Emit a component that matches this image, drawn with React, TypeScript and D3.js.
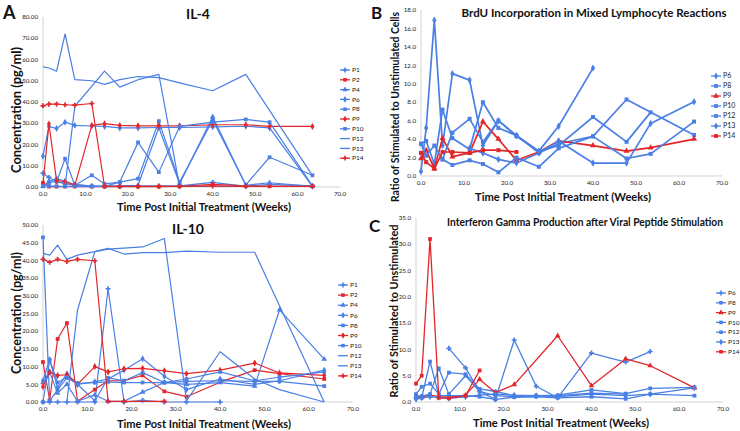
import React from 'react';
import * as d3 from 'd3';

const BLUE = '#4a7fe4';
const RED = '#e3262a';

// ---------- IL-4 ----------
const il4Weeks = [0, 1.4, 3.2, 5.2, 7.5, 11.5, 14.5, 18.1, 22.4, 27.3, 32.2, 40, 47.8, 53.4, 63.5];
const il4P1 = [6.5, 4.5, 2.5, 1.5, 1, 0.5, 0.3, 0.3, 0.5, 0.5, 0.5, 2.2, 0.3, 1.3, 0.5];
const il4P2 = [1.9, 0.2, 0.2, 0.2, 0.3, 0.2, 0.2, 0.2, 0.2, 0.2, 0.3, 1.3, 0.5, 0.3, 0.4];
const il4P4 = [0.3, 2.5, 4, 2.8, 1.2, 0.3, 0.3, 0.5, 0.8, 28, 1.5, 33, 0.8, 2, 0.3];
const il4P6 = [14.5, 28.5, 27.5, 30.5, 29, 28.7, 28.5, 27.8, 27.8, 28, 28, 28.3, 28.6, 27.8, 0.3];
const il4P8 = [0.3, 2.3, 2.5, 13.3, 0.8, 5.5, 1.5, 2.3, 3.9, 31, 2.3, 31.6, 1, 14, 5.5];
const il4P9 = [1.5, 29.7, 3, 2.5, 0.8, 29, 29.8, 29, 28.8, 28.8, 28.8, 29.3, 29.3, 28.5, 28.5];
const il4P10 = [0.5, 0.5, 0.3, 0.3, 0.3, 0.3, 0.3, 2.3, 21, 7, 28.5, 30.5, 31.8, 30.5, 0.5];
const il4P12 = [56.5, 56, 54.5, 72, 50.5, 50, 48.3, 50.5, 52, 51.5, 49, 45.3, 53, null, 5.5];
const il4P13 = [null, null, null, 0.3, 38, null, 54.5, 47, 50.5, 53, 0.3, 0.3, 0.3, null, 0.3];
const il4P14 = [38.2, 39, 39, 38.7, 38.5, 39.3, 0.3, 0.3, 0.3, 0.3, 0.3, 0.5, 0.3, null, 0.3];

// ---------- IL-10 ----------
const il10Weeks = [0, 1.5, 3.3, 5.4, 7.8, 11.7, 14.7, 18.3, 22.5, 27.4, 32.4, 40, 47.8, 53.4, 63.5];
const il10P1 = [0, 0, 0, 0, 0, 0, 32, 0, 0.5, 0, 0, 0, null, null, null];
const il10P2 = [11.3, 0.5, 17.8, 22.3, 0.2, 3.5, 6.0, 6.0, 7.5, 3.0, 1.5, 5.6, 9.0, 8.0, 6.5];
const il10P4 = [5.5, 8.5, 2.5, 5.0, 0.2, 2.0, 0.2, 0.2, 2.8, 5.5, 5.0, 5.5, 4.5, 26, 12.1];
const il10P6 = [6, 12, 4, 8, 5, 5.7, 6.5, 9, 12.2, 7.3, 3.5, 6.5, 5, 6, 9];
const il10P8 = [46.5, 0.3, 3.5, 6.8, 5.3, 5.5, 5.7, 5.5, 5.5, 5.5, 5.8, 6.0, 5.8, 5.8, 4.5];
const il10P9 = [4.3, 8.5, 7.5, 7.7, 5.0, 10.0, 8.5, 9.4, 9.5, 8.8, 8.0, 9.0, 11.0, 8.2, 7.5];
const il10P10 = [0, 11.8, 5.5, 7.0, 5.0, 0.3, 6.8, 6.0, 8.3, 5.5, 6.5, 8.5, 6.0, 7.0, 8.5];
const il10P12 = [42, 41.5, 44.3, 40.3, 41.5, 42.5, 43.4, 41.8, 42.2, 42.2, 42.6, 42.3, 42.3, null, 0];
const il10P13 = [null, null, null, 0, 26, 42.5, 43.2, null, 43.8, 46.2, 0.3, 14.2, 6.5, 3.5, 0];
const il10P14 = [40.3, 39.5, 40.3, 39.7, 40.3, 39.9, 0.2, 0.2, null, 0.2, null, null, null, null, null];

// ---------- BrdU ----------
const brduWeeks = [0, 1.2, 3.1, 5.0, 7.3, 11.3, 14.4, 18, 22.2, 27.4, 32, 40, 47.8, 53.4, 63.5];
const brduP6 = [0.5, 5.2, 16.9, 3.3, 11.1, 10.4, 3.3, 6.0, 4.4, 2.7, 5.4, 11.7, null, null, null];
const brduP8 = [3.5, 3.8, 1.3, 7.2, 4.1, 2.9, 8.0, 5.2, 4.4, 2.5, 3.5, 4.3, 8.3, null, 4.45];
const brduP9 = [1.9, 2.8, 0.8, 4.1, 2.1, 2.5, 5.9, 4.0, 1.7, 2.6, 3.8, 3.3, 2.7, 3.07, 4.0];
const brduP10 = [3.5, 2.2, 3.3, 1.8, 4.7, 6.2, 3.7, 6.0, 4.3, 2.7, 3.3, 6.4, 3.7, 6.9, null];
const brduP12 = [null, null, null, 1.8, 1.2, 1.7, 1.3, 0.4, 2.0, 1.0, 3.0, 4.3, 1.9, 2.4, 5.9];
const brduP13 = [null, null, null, null, null, 3.0, 2.5, 1.8, 1.4, 2.5, 3.8, 1.4, 1.4, 5.7, 8.05];
const brduP14 = [2.5, 1.5, 0.8, 2.6, 2.6, 2.5, 2.8, 2.8, 2.6, null, null, null, null, null, null];

// ---------- IFN-gamma ----------
const ifnWeeks = [0, 1.3, 3.2, 5.2, 7.5, 11.3, 14.5, 18.1, 22.4, 27.4, 32.3, 40, 47.8, 53.4, 63.5];
const ifnP6 = [null, null, null, null, 10.2, 6.5, 2.0, 0.5, 11.8, 3.0, 0.8, 9.3, 7.6, 9.6, null];
const ifnP8 = [1.5, 2.9, 3.5, 1.5, 5.6, 5.3, 2.5, 2.0, 1.2, 1.2, 1.3, 2.3, 1.6, 2.6, 2.8];
const ifnP9 = [1.0, 1.0, 1.3, 1.0, 0.9, 1.3, 4.3, 1.8, 3.3, null, 12.6, 3.1, 8.2, 6.9, 2.7];
const ifnP10 = [0.8, 0.8, 7.7, 1.2, 1.2, 1.2, 1.0, 0.5, 0.9, 1.0, 0.8, 1.0, 0.6, 1.5, 1.2];
const ifnP12 = [1.2, 1.1, 1.5, 6.4, 1.5, 5.0, 2.0, 1.2, 1.0, 1.2, 1.2, 1.7, 1.5, null, null];
const ifnP13 = [0.5, 0.8, 1.0, 0.9, 0.7, 1.0, 1.3, 1.5, 1.3, 1.2, 1.0, 1.5, 1.2, 1.5, 2.7];
const ifnP14 = [3.5, 5.0, 31.0, 0.8, 0.7, 1.2, 6.0, null, null, null, null, null, null, null, null];

const xTicks = [0, 10, 20, 30, 40, 50, 60, 70];

type Series = { name: string; values: (number | null)[]; color: string; marker: string };

const il4Series: Series[] = [
  { name: 'P1', values: il4P1, color: BLUE, marker: 'cross' },
  { name: 'P2', values: il4P2, color: RED, marker: 'square' },
  { name: 'P4', values: il4P4, color: BLUE, marker: 'triangle' },
  { name: 'P6', values: il4P6, color: BLUE, marker: 'diamond' },
  { name: 'P8', values: il4P8, color: BLUE, marker: 'square' },
  { name: 'P9', values: il4P9, color: RED, marker: 'diamond' },
  { name: 'P10', values: il4P10, color: BLUE, marker: 'square' },
  { name: 'P12', values: il4P12, color: BLUE, marker: 'none' },
  { name: 'P13', values: il4P13, color: BLUE, marker: 'none' },
  { name: 'P14', values: il4P14, color: RED, marker: 'cross' },
];
const il10Series: Series[] = [
  { name: 'P1', values: il10P1, color: BLUE, marker: 'cross' },
  { name: 'P2', values: il10P2, color: RED, marker: 'square' },
  { name: 'P4', values: il10P4, color: BLUE, marker: 'triangle' },
  { name: 'P6', values: il10P6, color: BLUE, marker: 'diamond' },
  { name: 'P8', values: il10P8, color: BLUE, marker: 'square' },
  { name: 'P9', values: il10P9, color: RED, marker: 'diamond' },
  { name: 'P10', values: il10P10, color: BLUE, marker: 'square' },
  { name: 'P12', values: il10P12, color: BLUE, marker: 'none' },
  { name: 'P13', values: il10P13, color: BLUE, marker: 'none' },
  { name: 'P14', values: il10P14, color: RED, marker: 'cross' },
];
const brduSeries: Series[] = [
  { name: 'P6', values: brduP6, color: BLUE, marker: 'diamond' },
  { name: 'P8', values: brduP8, color: BLUE, marker: 'square' },
  { name: 'P9', values: brduP9, color: RED, marker: 'triangle' },
  { name: 'P10', values: brduP10, color: BLUE, marker: 'square' },
  { name: 'P12', values: brduP12, color: BLUE, marker: 'square' },
  { name: 'P13', values: brduP13, color: BLUE, marker: 'diamond' },
  { name: 'P14', values: brduP14, color: RED, marker: 'square' },
];
const ifnSeries: Series[] = [
  { name: 'P6', values: ifnP6, color: BLUE, marker: 'cross' },
  { name: 'P8', values: ifnP8, color: BLUE, marker: 'square' },
  { name: 'P9', values: ifnP9, color: RED, marker: 'triangle' },
  { name: 'P10', values: ifnP10, color: BLUE, marker: 'square' },
  { name: 'P12', values: ifnP12, color: BLUE, marker: 'square' },
  { name: 'P13', values: ifnP13, color: BLUE, marker: 'diamond' },
  { name: 'P14', values: ifnP14, color: RED, marker: 'square' },
];

const FONT = 'Lato, "Open Sans", sans-serif';

function symbolPath(marker: string, size: number) {
  const t =
    marker === 'square' ? d3.symbolSquare :
    marker === 'diamond' ? d3.symbolDiamond :
    marker === 'triangle' ? d3.symbolTriangle :
    d3.symbolCross;
  return d3.symbol().type(t).size(size)() || '';
}

type PanelProps = {
  weeks: number[];
  series: Series[];
  x0: number; x1: number; yTop: number; yBot: number;
  yMax: number; yStep: number; yDigits: number;
  lineW: number; mSize: number;
  legX: number; legY: number; legDy: number; legFont: number;
};

function Panel(p: PanelProps) {
  const xs = d3.scaleLinear().domain([0, 70]).range([p.x0, p.x1]);
  const ys = d3.scaleLinear().domain([0, p.yMax]).range([p.yBot, p.yTop]);
  const yTicks = d3.range(0, p.yMax + p.yStep / 2, p.yStep);
  const line = d3
    .line<[number, number]>()
    .x((d) => xs(d[0]))
    .y((d) => ys(d[1]));
  return (
    <g>
      <line x1={p.x0} x2={p.x0} y1={p.yTop} y2={p.yBot} stroke="#c8c8c8" strokeWidth={0.8} />
      <line x1={p.x0} x2={p.x1} y1={p.yBot} y2={p.yBot} stroke="#c8c8c8" strokeWidth={0.8} />
      {yTicks.map((t) => (
        <text key={'y' + t} x={p.x0 - 5} y={ys(t) + 2.2} textAnchor="end" fontSize={6.2} fontFamily={FONT} fill="#222">
          {d3.format('.' + p.yDigits + 'f')(t)}
        </text>
      ))}
      {xTicks.map((t) => (
        <text key={'x' + t} x={xs(t)} y={p.yBot + 9} textAnchor="middle" fontSize={6.2} fontFamily={FONT} fill="#222">
          {d3.format('.1f')(t)}
        </text>
      ))}
      {p.series.map((s) => {
        const pts: [number, number][] = [];
        s.values.forEach((v, i) => {
          if (v !== null && v !== undefined) pts.push([p.weeks[i], v]);
        });
        return (
          <g key={s.name}>
            <path d={line(pts) || ''} fill="none" stroke={s.color} strokeWidth={p.lineW} strokeLinejoin="round" />
            {s.marker !== 'none' &&
              pts.map((d, i) => (
                <path key={i} d={symbolPath(s.marker, p.mSize)} transform={`translate(${xs(d[0])},${ys(d[1])})`} fill={s.color} />
              ))}
          </g>
        );
      })}
      {p.series.map((s, i) => {
        const y = p.legY + i * p.legDy;
        return (
          <g key={'l' + s.name}>
            <line x1={p.legX} x2={p.legX + 10} y1={y} y2={y} stroke={s.color} strokeWidth={1.3} />
            {s.marker !== 'none' && (
              <path d={symbolPath(s.marker, p.mSize * 0.9)} transform={`translate(${p.legX + 5},${y})`} fill={s.color} />
            )}
            <text x={p.legX + 12} y={y + 2.2} fontSize={p.legFont} fontFamily={FONT} fill="#222">
              {s.name}
            </text>
          </g>
        );
      })}
    </g>
  );
}

function T(props: { x: number; y: number; size: number; len?: number; rot?: boolean; anchor?: string; children: string }) {
  const { x, y, size, len, rot, anchor, children } = props;
  return (
    <text
      x={x}
      y={y}
      fontSize={size}
      fontWeight={700}
      fontFamily={FONT}
      fill="#111"
      textAnchor={(anchor as any) || 'middle'}
      transform={rot ? `rotate(-90 ${x} ${y})` : undefined}
      textLength={len}
      lengthAdjust={len ? 'spacingAndGlyphs' : undefined}
    >
      {children}
    </text>
  );
}

export default function App() {
  return (
    <svg width={740} height={431} style={{ position: 'absolute', left: 0, top: 0, background: '#fff' }}>
      <rect width={740} height={431} fill="#fff" />
      {/* Panel A: IL-4 */}
      <T x={3} y={19} size={18} anchor="start">A</T>
      <T x={198} y={19} size={14}>IL-4</T>
      <Panel weeks={il4Weeks} series={il4Series} x0={43} x1={340} yTop={17} yBot={187} yMax={80} yStep={10} yDigits={2}
        lineW={1.2} mSize={14} legX={340} legY={70} legDy={9.8} legFont={6.5} />
      <T x={204} y={211} size={11.5} len={174}>Time Post Initial Treatment (Weeks)</T>
      <T x={21} y={110} size={12.5} len={126} rot>Concentration (pg/ml)</T>

      {/* Panel A: IL-10 */}
      <T x={188} y={234} size={14}>IL-10</T>
      <Panel weeks={il10Weeks} series={il10Series} x0={43} x1={353} yTop={225} yBot={402} yMax={50} yStep={5} yDigits={2}
        lineW={1.2} mSize={14} legX={338} legY={285} legDy={10.1} legFont={6.5} />
      <T x={204} y={428} size={11.5} len={174}>Time Post Initial Treatment (Weeks)</T>
      <T x={21} y={313} size={12.5} len={122} rot>Concentration (pg/ml)</T>

      {/* Panel B */}
      <T x={371} y={19} size={17} anchor="start">B</T>
      <T x={594} y={17} size={11} len={265}>BrdU Incorporation in Mixed Lymphocyte Reactions</T>
      <Panel weeks={brduWeeks} series={brduSeries} x0={421} x1={722} yTop={10} yBot={176} yMax={18} yStep={2} yDigits={1}
        lineW={1.7} mSize={16} legX={711} legY={76} legDy={10} legFont={7} />
      <T x={563} y={201} size={11.5} len={176}>Time Post Initial Treatment (Weeks)</T>
      <T x={399} y={107} size={11} len={190} rot>Ratio of Stimulated to Unstimulated Cells</T>

      {/* Panel C */}
      <T x={369} y={232} size={17} anchor="start">C</T>
      <T x={585} y={226} size={10.5} len={276}>Interferon Gamma Production after Viral Peptide Stimulation</T>
      <Panel weeks={ifnWeeks} series={ifnSeries} x0={416} x1={723} yTop={218} yBot={402} yMax={35} yStep={5} yDigits={1}
        lineW={1.3} mSize={14} legX={716} legY={293} legDy={9.8} legFont={6.5} />
      <T x={561} y={427} size={11.5} len={176}>Time Post Initial Treatment (Weeks)</T>
      <T x={398} y={311} size={11.5} len={173} rot>Ratio of Stimulated to Unstimulated</T>
    </svg>
  );
}
